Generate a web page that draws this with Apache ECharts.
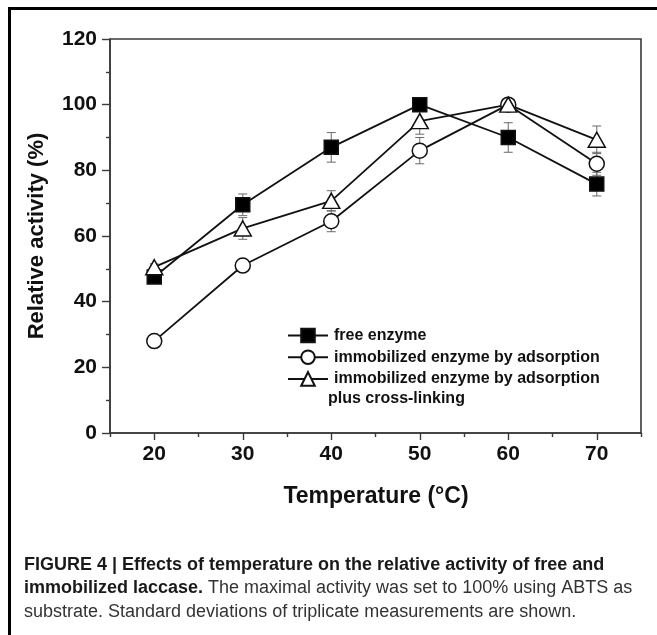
<!DOCTYPE html>
<html>
<head>
<meta charset="utf-8">
<script src="https://cdn.jsdelivr.net/npm/echarts@6/dist/echarts.min.js"></script>
<style>
  html, body { margin: 0; padding: 0; background: #fff; }
  #chart { width: 657px; height: 635px; }
</style>
</head>
<body>
<div id="chart"></div>
<script>
// ---- Data ----
var temperatures = [20, 30, 40, 50, 60, 70];
var freeEnzyme = [47.5, 69.5, 87, 100, 90, 75.8];
var freeEnzymeErr = [1.5, 3.3, 4.5, 1, 4.5, 3.6];
var adsorption = [28, 51, 64.5, 86, 100, 82];
var adsorptionErr = [1, 1.5, 3.2, 4, 1, 3.5];
var crossLinking = [50.5, 62.3, 70.7, 95, 100, 89.3];
var crossLinkingErr = [1, 3.3, 3.1, 4, 1, 4.2];
var seriesNames = [
  'free enzyme',
  'immobilized enzyme by adsorption',
  'immobilized enzyme by adsorption plus cross-linking'
];
var xMajorTicks = [20, 30, 40, 50, 60, 70];
var xMinorTicks = [15, 25, 35, 45, 55, 65, 75];

var FONT = '"Liberation Sans", Arial, Helvetica, sans-serif';
var AXIS_COLOR = '#3a3a3a';

function pts(vals) { return temperatures.map(function (t, i) { return [t, vals[i]]; }); }
function errPts(vals, errs) { return temperatures.map(function (t, i) { return [t, vals[i], errs[i]]; }); }

function errorBarSeries(vals, errs) {
  return {
    type: 'custom',
    xAxisIndex: 0, yAxisIndex: 0,
    z: 1,
    silent: true,
    data: errPts(vals, errs),
    renderItem: function (params, api) {
      var x = api.value(0), y = api.value(1), e = api.value(2);
      var top = api.coord([x, y + e]);
      var bot = api.coord([x, y - e]);
      var hw = 4.5;
      var st = { stroke: '#6a6a6a', lineWidth: 1 };
      return {
        type: 'group',
        children: [
          { type: 'line', shape: { x1: top[0], y1: top[1], x2: bot[0], y2: bot[1] }, style: st },
          { type: 'line', shape: { x1: top[0] - hw, y1: top[1], x2: top[0] + hw, y2: top[1] }, style: st },
          { type: 'line', shape: { x1: bot[0] - hw, y1: bot[1], x2: bot[0] + hw, y2: bot[1] }, style: st }
        ]
      };
    }
  };
}

function lineSeries(name, vals, symbol, size, fill) {
  return {
    name: name,
    type: 'line',
    xAxisIndex: 0, yAxisIndex: 0,
    z: 3,
    data: pts(vals),
    symbol: symbol,
    symbolSize: size,
    showAllSymbol: true,
    lineStyle: { color: '#111', width: 1.8 },
    itemStyle: { color: fill, borderColor: '#111', borderWidth: 1.5 },
    emphasis: { disabled: true },
    animation: false
  };
}

var chart = echarts.init(document.getElementById('chart'), null, { renderer: 'canvas' });

var option = {
  backgroundColor: '#fff',
  animation: false,
  grid: {
    left: 110, right: 16, top: 39, bottom: 202,
    show: true, borderColor: AXIS_COLOR, borderWidth: 1.6, backgroundColor: 'transparent'
  },
  legend: {
    show: true,
    orient: 'vertical',
    left: 282,
    top: 322.5,
    itemWidth: 40,
    itemHeight: 17,
    itemGap: 5.7,
    data: seriesNames,
    formatter: function (name) {
      return name === seriesNames[2] ? 'immobilized enzyme by adsorption' : name;
    },
    textStyle: { fontFamily: FONT, fontSize: 16, fontWeight: 'bold', color: '#111', padding: [0, 0, 0, 1] },
    selectedMode: false
  },
  xAxis: [
    {
      type: 'value', min: 15, max: 75,
      axisLine: { show: true, lineStyle: { color: AXIS_COLOR, width: 1.6 } },
      axisTick: { show: true, customValues: xMajorTicks, length: 7, lineStyle: { color: AXIS_COLOR, width: 1.4 } },
      axisLabel: { customValues: xMajorTicks, margin: 11, fontFamily: FONT, fontSize: 21, fontWeight: 'bold', color: '#111' },
      splitLine: { show: false }
    },
    {
      type: 'value', min: 15, max: 75, position: 'bottom',
      axisLine: { show: false },
      axisTick: { show: true, customValues: xMinorTicks, length: 4, lineStyle: { color: AXIS_COLOR, width: 1.4 } },
      axisLabel: { show: false },
      splitLine: { show: false }
    }
  ],
  yAxis: [
    {
      type: 'value', min: 0, max: 120, interval: 20,
      axisLine: { show: true, lineStyle: { color: AXIS_COLOR, width: 1.6 } },
      axisTick: { show: true, length: 8, lineStyle: { color: AXIS_COLOR, width: 1.4 } },
      minorTick: { show: true, splitNumber: 2, length: 4, lineStyle: { color: AXIS_COLOR, width: 1.4 } },
      axisLabel: { margin: 13, fontFamily: FONT, fontSize: 21, fontWeight: 'bold', color: '#111' },
      splitLine: { show: false },
      minorSplitLine: { show: false }
    }
  ],
  series: [
    errorBarSeries(freeEnzyme, freeEnzymeErr),
    errorBarSeries(adsorption, adsorptionErr),
    errorBarSeries(crossLinking, crossLinkingErr),
    lineSeries(seriesNames[0], freeEnzyme, 'rect', 14, '#000'),
    lineSeries(seriesNames[1], adsorption, 'circle', 15, '#fff'),
    lineSeries(seriesNames[2], crossLinking, 'triangle', [17, 15], '#fff')
  ],
  graphic: [
    {
      type: 'polyline', silent: true, z: 10,
      shape: { points: [[9.5, 640], [9.5, 8.5], [665, 8.5]] },
      style: { stroke: '#000', lineWidth: 3, fill: null }
    },
    {
      type: 'text', silent: true,
      x: 328, y: 399,
      style: { text: 'plus cross-linking', fontFamily: FONT, fontSize: 16, fontWeight: 'bold', fill: '#111', align: 'left', verticalAlign: 'middle' }
    },
    {
      type: 'text', silent: true,
      x: 37, y: 236, rotation: Math.PI / 2,
      style: { text: 'Relative activity (%)', fontFamily: FONT, fontSize: 22, fontWeight: 'bold', fill: '#111', align: 'center', verticalAlign: 'middle' }
    },
    {
      type: 'text', silent: true,
      x: 376, y: 497,
      style: { text: 'Temperature (°C)', fontFamily: FONT, fontSize: 23, fontWeight: 'bold', fill: '#111', align: 'center', verticalAlign: 'middle' }
    },
    {
      type: 'text', silent: true,
      x: 24, y: 553,
      style: {
        text: '{b|FIGURE 4 | Effects of temperature on the relative activity of free and}\n' +
              '{b|immobilized laccase.}{r| The maximal activity was set to 100% using ABTS as}\n' +
              '{r|substrate. Standard deviations of triplicate measurements are shown.}',
        align: 'left', verticalAlign: 'top',
        rich: {
          b: { fontFamily: FONT, fontSize: 18, fontWeight: 'bold', fill: '#1a1a1a', lineHeight: 23.5 },
          r: { fontFamily: FONT, fontSize: 18, fontWeight: 'normal', fill: '#333', lineHeight: 23.5 }
        }
      }
    }
  ]
};

chart.setOption(option);
</script>
</body>
</html>
